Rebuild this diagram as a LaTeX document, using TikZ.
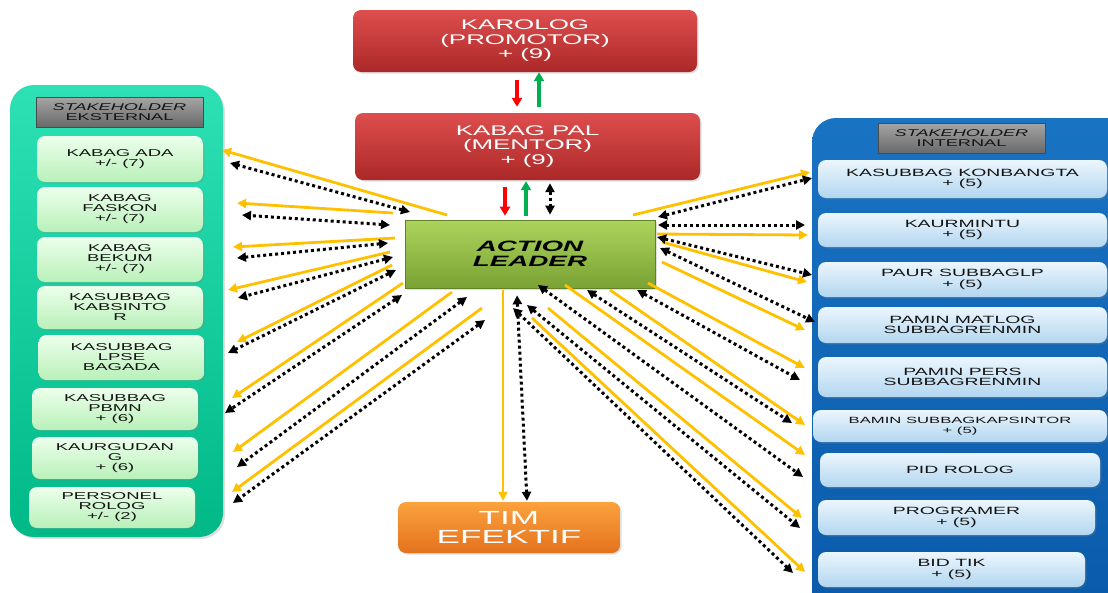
\documentclass[tikz,border=0pt]{standalone}
\usepackage{fontspec}
\setmainfont{Liberation Sans}[FakeStretch=1.85]
\usetikzlibrary{arrows.meta,shadows}

\definecolor{kuning}{RGB}{255,192,0}
\definecolor{merah}{RGB}{255,0,0}
\definecolor{hijau}{RGB}{0,176,80}
\definecolor{toscaA}{RGB}{45,225,180}
\definecolor{toscaB}{RGB}{0,185,135}
\definecolor{biruA}{RGB}{25,115,195}
\definecolor{biruB}{RGB}{10,90,170}
\definecolor{hmudaA}{RGB}{236,255,236}
\definecolor{hmudaB}{RGB}{185,240,185}
\definecolor{bmudaA}{RGB}{236,246,253}
\definecolor{bmudaB}{RGB}{178,214,240}
\definecolor{abuA}{RGB}{165,165,165}
\definecolor{abuB}{RGB}{105,105,105}
\definecolor{merahA}{RGB}{222,78,78}
\definecolor{merahB}{RGB}{172,40,40}
\definecolor{limeA}{RGB}{172,212,92}
\definecolor{limeB}{RGB}{122,162,52}
\definecolor{oranyeA}{RGB}{251,162,62}
\definecolor{oranyeB}{RGB}{228,114,30}

\tikzset{
    kotak/.style={rounded corners=8pt, inner sep=0pt, align=center, text=black!92,
        drop shadow={opacity=.25, shadow xshift=1.5pt, shadow yshift=-1.5pt}},
    ekst/.style={kotak, top color=hmudaA, bottom color=hmudaB, minimum width=166pt,
        font=\fontsize{10}{10}\selectfont},
    inte/.style={kotak, top color=bmudaA, bottom color=bmudaB,
        font=\fontsize{10.5}{10.5}\selectfont},
    judul/.style={top color=abuA, bottom color=abuB, draw=abuB!70!black, line width=.6pt,
        minimum width=167pt, minimum height=30pt, inner sep=0pt, align=center,
        text=black!92, font=\fontsize{9.8}{10}\selectfont},
    pimpinan/.style={kotak, top color=merahA, bottom color=merahB, text=white,
        font=\fontsize{14}{14.5}\selectfont},
    garis/.style={draw=kuning, line width=2.8pt, -{Triangle[length=9pt,width=9pt]}},
    titik/.style={draw=black, line width=3pt, dash pattern=on 3pt off 3pt,
        {Triangle[length=9pt,width=9pt]}-{Triangle[length=9pt,width=9pt]}},
    panah/.style={line width=3.5pt, -{Triangle[length=9pt,width=10pt]}}
}

\begin{document}
\begin{tikzpicture}[x=1pt,y=-1pt]
    \useasboundingbox (0,0) rectangle (1108,592);
    \clip (0,0) rectangle (1108,592);

    \shade[top color=toscaA, bottom color=toscaB, rounded corners=24pt,
        drop shadow={opacity=.25, shadow xshift=2pt, shadow yshift=-2pt}] (10,85) rectangle (223,537);
    \shade[top color=biruA, bottom color=biruB, rounded corners=24pt,
        drop shadow={opacity=.25, shadow xshift=2pt, shadow yshift=-2pt}] (812,118) rectangle (1135,615);

    \node[judul] (jdlEks) at (119.5,112) {{\itshape STAKEHOLDER}\\EKSTERNAL};
    \node[judul] (jdlInt) at (961.5,138) {{\itshape STAKEHOLDER}\\INTERNAL};

    \node[ekst, minimum height=46pt] (ada) at (120,159) {KABAG ADA\\+/- (7)};
    \node[ekst, minimum height=45pt] (faskon) at (120,209.5) {KABAG\\FASKON\\+/- (7)};
    \node[ekst, minimum height=45pt] (bekum) at (120,259.5) {KABAG\\BEKUM\\+/- (7)};
    \node[ekst, minimum height=43pt] (kabsintor) at (120,307.5) {KASUBBAG\\KABSINTO\\R};
    \node[ekst, minimum height=45pt] (lpse) at (121.5,357.5) {KASUBBAG\\LPSE\\BAGADA};
    \node[ekst, minimum height=42pt] (pbmn) at (115,409) {KASUBBAG\\PBMN\\+ (6)};
    \node[ekst, minimum height=42pt] (kaurgudang) at (115,458) {KAURGUDAN\\G\\+ (6)};
    \node[ekst, minimum height=41pt] (personel) at (112,507.5) {PERSONEL\\ROLOG\\+/- (2)};

    \node[inte, minimum width=289pt, minimum height=38pt] (konbangta) at (962.5,179) {KASUBBAG KONBANGTA\\+ (5)};
    \node[inte, minimum width=289pt, minimum height=34pt] (kaurmintu) at (962.5,230) {KAURMINTU\\+ (5)};
    \node[inte, minimum width=289pt, minimum height=35pt] (paur) at (962.5,279.5) {PAUR SUBBAGLP\\+ (5)};
    \node[inte, minimum width=289pt, minimum height=36pt] (matlog) at (962.5,325) {PAMIN MATLOG\\SUBBAGRENMIN};
    \node[inte, minimum width=289pt, minimum height=40pt] (pers) at (962.5,377) {PAMIN PERS\\SUBBAGRENMIN};
    \node[inte, minimum width=294pt, minimum height=32pt, font=\fontsize{9}{10}\selectfont] (kapsintor) at (960,426) {BAMIN SUBBAGKAPSINTOR\\+ (5)};
    \node[inte, minimum width=280pt, minimum height=34pt] (pidrolog) at (960,470) {PID ROLOG};
    \node[inte, minimum width=277pt, minimum height=35pt] (programer) at (956.5,517.5) {PROGRAMER\\+ (5)};
    \node[inte, minimum width=267pt, minimum height=35pt] (bidtik) at (951.5,569.5) {BID TIK\\+ (5)};

    \node[pimpinan, minimum width=344pt, minimum height=62pt] (karolog) at (525,41) {KAROLOG\\(PROMOTOR)\\+ (9)};
    \node[pimpinan, minimum width=345pt, minimum height=67pt] (kabagpal) at (527.5,146.5) {KABAG PAL\\(MENTOR)\\+ (9)};
    \node[kotak, rounded corners=0pt, top color=limeA, bottom color=limeB, draw=limeB!80!black, line width=.6pt,
        minimum width=250pt, minimum height=68pt, text=black,
        font=\bfseries\itshape\fontsize{15}{15}\selectfont] (action) at (530,254) {ACTION\\LEADER};
    \node[kotak, top color=oranyeA, bottom color=oranyeB, text=white, minimum width=222pt, minimum height=51pt,
        font=\fontsize{19}{18.5}\selectfont] (tim) at (509,527.5) {TIM\\EFEKTIF};

    \draw[panah, merah] ([xshift=-8pt,yshift=-8pt]karolog.south) -- ([xshift=-10.5pt,yshift=6pt]kabagpal.north);
    \draw[panah, hijau] ([xshift=11.5pt,yshift=6pt]kabagpal.north) -- ([xshift=14pt]karolog.south);
    \draw[panah, merah] ([xshift=-22.5pt,yshift=-7pt]kabagpal.south) -- ([xshift=-25pt,yshift=4pt]action.north);
    \draw[panah, hijau] ([xshift=-4pt,yshift=4pt]action.north) -- ([xshift=-1.5pt,yshift=-1pt]kabagpal.south);
    \draw[titik] ([xshift=22.5pt,yshift=-3pt]kabagpal.south) -- ([xshift=20pt,yshift=5pt]action.north);

    \draw[garis] ([xshift=-27pt,yshift=-2pt]action.south) -- ([xshift=-6pt,yshift=1pt]tim.north);
    \draw[titik] ([xshift=-13pt,yshift=-7pt]action.south) -- ([xshift=18pt,yshift=1pt]tim.north);

    \foreach \i/\ax/\ay/\bx/\by in {1/447/215/222/150, 2/393/213/237/203, 3/395/238/233/247, 4/390/252/228/290,
        5/392/265/237/342, 6/403/283/232/398, 7/452/292/233/452, 8/482/308/232/492}
    {
        \coordinate (kiA\i) at (\ax,\ay);
        \coordinate (kiB\i) at (\bx,\by);
        \draw[garis] (kiA\i) -- (kiB\i);
    }
    \foreach \i/\ax/\ay/\bx/\by in {1/410/212/230/163, 2/390/225/242/215, 3/388/243/237/258, 4/393/257/238/298,
        5/396/270/228/353, 6/402/295/225/413, 7/467/297/237/467, 8/485/320/233/503}
    {
        \coordinate (kiC\i) at (\ax,\ay);
        \coordinate (kiD\i) at (\bx,\by);
        \draw[titik] (kiC\i) -- (kiD\i);
    }
    \foreach \i/\ax/\ay/\bx/\by in {1/633/215/810/172, 2/657/234/808/235, 3/662/242/807/282, 4/662/262/805/330,
        5/648/283/805/368, 6/610/290/805/425, 7/565/285/805/455, 8/548/308/802/518, 9/532/318/805/572}
    {
        \coordinate (kaA\i) at (\ax,\ay);
        \coordinate (kaB\i) at (\bx,\by);
        \draw[garis] (kaA\i) -- (kaB\i);
    }
    \foreach \i/\ax/\ay/\bx/\by in {1/658/217/812/178, 2/658/225/805/225, 3/657/237/812/275, 4/660/248/815/322,
        5/637/290/800/380, 6/587/290/792/423, 7/538/285/803/477, 8/527/305/800/528, 9/513/308/793/573}
    {
        \coordinate (kaC\i) at (\ax,\ay);
        \coordinate (kaD\i) at (\bx,\by);
        \draw[titik] (kaC\i) -- (kaD\i);
    }
\end{tikzpicture}
\end{document}
